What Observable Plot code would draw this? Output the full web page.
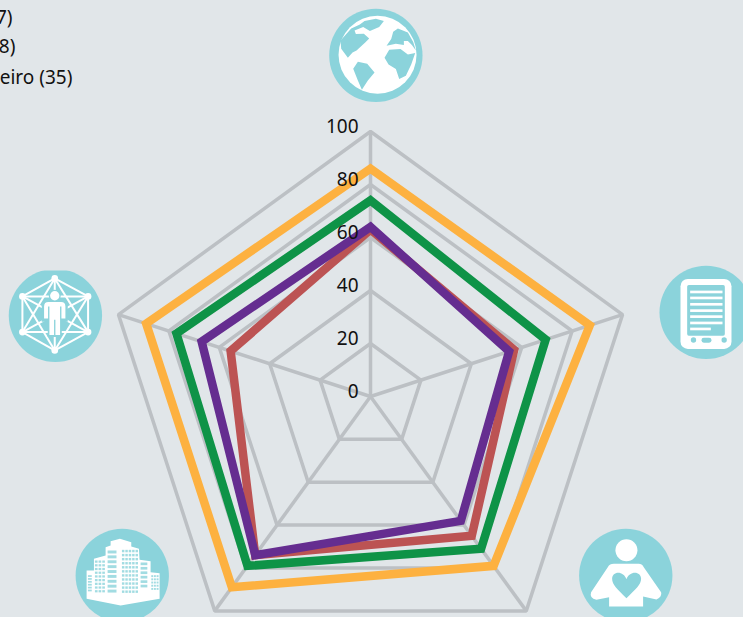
<!DOCTYPE html>
<html>
<head>
<meta charset="utf-8">
<script src="https://cdn.jsdelivr.net/npm/d3@7"></script>
<script src="https://cdn.jsdelivr.net/npm/@observablehq/plot@0.6"></script>
<style>
html,body{margin:0;padding:0;background:#e1e6e9;overflow:hidden}
svg{display:block}
</style>
</head>
<body>
<div id="chart"></div>
<script>
const axesCount = 5;
const levels = [0, 20, 40, 60, 80, 100];
const seriesOrange = [86, 87, 79, 89, 89];
const seriesGreen = [74, 69.5, 71, 79, 77];
const seriesRed = [63, 57, 65, 74, 55.5];
const seriesPurple = [64, 55, 58, 74, 67];
const seriesColors = ["#fdb140", "#0e9347", "#bc5353", "#652d90"];
const legendLabels = ["7)", "8)", "eiro (35)"];
const legendX = [-135.1, -134, -112.5];
const legendY = [142.9, 132, 120.4];

const TEAL = "#8bd3db";
function wrap(w, h, body) {
  const svg = `<svg xmlns="http://www.w3.org/2000/svg" width="${w}" height="${h}" viewBox="0 0 ${w} ${h}">${body}</svg>`;
  return "data:image/svg+xml;charset=utf-8," + encodeURIComponent(svg);
}
function cells(x0, y0, x1, y1, cols, rows) {
  let s = "";
  const cw = (x1 - x0) / cols, ch = (y1 - y0) / rows;
  for (let i = 0; i < cols; i++) for (let j = 0; j < rows; j++)
    s += `<rect x="${x0 + i * cw}" y="${y0 + j * ch}" width="${cw * 0.72}" height="${ch * 0.6}" fill="${TEAL}" opacity=".8"/>`;
  return s;
}
const globeIcon = wrap(330, 330, `
<circle cx="166" cy="165" r="140" fill="${TEAL}"/>
<circle cx="171" cy="163" r="117" fill="#fff"/>
<g fill="${TEAL}">
<path d="M60 120L62 145L82 172L96 156L108 150L134 126L146 114L130 100L106 101L102 90L128 80L148 92L176 80L190 62L166 55L132 62L118 72L92 84Z"/>
<path d="M218 94L232 84L262 96L278 125L286 150L274 134L262 122L250 122L250 134L226 130L198 136L212 116Z"/>
<path d="M192 172L206 148L240 146L262 162L284 158L272 192L256 226L236 236L226 206L204 192Z"/>
<path d="M98 205L112 184L140 190L162 216L142 240L124 268L112 240Z"/>
</g>`);
const netNodes = [[163,24],[263,78],[263,185],[163,240],[66,185],[66,78]];
let netLines = "";
for (let i = 0; i < 6; i++) for (let j = i + 1; j < 6; j++)
  netLines += `<line x1="${netNodes[i][0]}" y1="${netNodes[i][1]}" x2="${netNodes[j][0]}" y2="${netNodes[j][1]}"/>`;
const networkIcon = wrap(330, 300, `
<circle cx="165" cy="135" r="140" fill="${TEAL}"/>
<g stroke="#fff" stroke-width="6">${netLines}</g>
${netNodes.map(n => `<circle cx="${n[0]}" cy="${n[1]}" r="10" fill="#fff"/>`).join("")}
<path d="M124 104Q124 88 140 88L186 88Q202 88 202 104L202 154L184 154L184 200L142 200L142 154L124 154Z" fill="${TEAL}"/>
<circle cx="163" cy="76" r="18" fill="${TEAL}"/>
<circle cx="163" cy="76" r="14" fill="#fff"/>
<path d="M131 108Q131 95 144 95L182 95Q195 95 195 108L195 144L183 144L183 108L179 108L179 194L165 194L165 148L161 148L161 194L147 194L147 108L143 108L143 144L131 144Z" fill="#fff"/>`);
const tabletIcon = wrap(279, 300, `
<circle cx="167" cy="155" r="140" fill="${TEAL}"/>
<rect x="90" y="55" width="153" height="210" rx="22" fill="#fff"/>
<rect x="110" y="73" width="113" height="152" rx="5" fill="${TEAL}"/>
<g fill="#fff">
${[90,108,127,146,164,183].map(y => `<rect x="119" y="${y}" width="97" height="8"/>`).join("")}
<rect x="119" y="201" width="62" height="8"/>
</g>
<g fill="${TEAL}">
<circle cx="129" cy="238" r="8"/><circle cx="221" cy="238" r="8"/>
<rect x="153" y="231" width="30" height="15" rx="7"/>
</g>`);
const buildingIcon = wrap(360, 291, `
<circle cx="185" cy="165" r="140" fill="${TEAL}"/>
<path d="M78 150L100 150L100 115L135 105L135 80L150 75L150 62L178 55L212 65L212 78L235 85L237 118L270 122L270 155L297 158L297 235L180 255L78 235Z" fill="#fff"/>
${cells(82,164,98,216,1,6)}${cells(103,120,136,220,3,9)}${cells(141,90,178,222,1,9)}
${cells(184,88,235,222,5,11)}${cells(240,126,268,206,1,6)}${cells(272,164,296,212,3,5)}`);
const personIcon = wrap(330, 291, `
<circle cx="166" cy="165" r="140" fill="${TEAL}"/>
<circle cx="168" cy="89" r="33" fill="#fff"/>
<path d="M130 130L205 130Q214 130 220 140L272 215Q276 228 258 237L218 228L218 258L116 258L116 230L78 238Q56 232 62 215L112 140Q118 130 130 130Z" fill="#fff"/>
<path d="M168 233C140 206 125 192 125 175C125 150 160 150 168 176C176 150 212 150 212 175C212 192 196 206 168 233Z" fill="${TEAL}"/>`);
const iconSrc = [globeIcon, tabletIcon, personIcon, buildingIcon, networkIcon];
const iconX = [1.9, 123.2, 96.2, -94.3, -118.9];
const iconY = [128.7, 32.4, -65.1, -65.1, 28.7];
const iconW = [110, 93, 110, 120, 110];
const iconH = [110, 100, 97, 97, 100];

const angle = i => i * 2 * Math.PI / axesCount;
const pt = (i, r) => ({x: r * Math.sin(angle(i)), y: r * Math.cos(angle(i))});
const idx = d3.range(axesCount);

const ringData = levels.slice(1).flatMap(l => idx.map(i => ({...pt(i, l), level: l})));
const spokes = idx.map(i => pt(i, 100));
const allSeries = [seriesOrange, seriesGreen, seriesRed, seriesPurple];
const seriesData = allSeries.flatMap((vals, s) => vals.map((v, i) => ({...pt(i, v), s})));
const icons = iconSrc.map((src, i) => ({src, x: iconX[i], y: iconY[i], w: iconW[i], h: iconH[i]}));
const legend = legendLabels.map((t, i) => ({t, x: legendX[i], y: legendY[i]}));
const FONT = "'Noto Sans', sans-serif";

const plot = Plot.plot({
  width: 743,
  height: 617,
  margin: 0,
  style: {background: "#e1e6e9", fontFamily: FONT},
  x: {domain: [-139.62, 140.75], range: [0, 743], axis: null},
  y: {domain: [-83.4, 149.43], range: [617, 0], axis: null},
  marks: [
    Plot.link(spokes, {x1: () => 0, y1: () => 0, x2: "x", y2: "y", stroke: "#bcc0c4", strokeWidth: 3.5}),
    Plot.line(ringData, {x: "x", y: "y", z: "level", curve: "linear-closed", stroke: "#bcc0c4", strokeWidth: 3.5, strokeLinejoin: "miter"}),
    ...allSeries.map((_, s) => Plot.line(seriesData.filter(d => d.s === s), {
      x: "x", y: "y", curve: "linear-closed", stroke: seriesColors[s], strokeWidth: 8.5,
      strokeLinejoin: "miter", strokeMiterlimit: 8
    })),
    Plot.text(levels, {x: () => -4.5, y: d => d, text: d => String(d), textAnchor: "end", dy: -5, fontSize: 19, fill: "#111", fontFamily: FONT}),
    Plot.image(icons.filter(d => d.w === 110 && d.h === 110), {x: "x", y: "y", src: "src", width: 110, height: 110}),
    Plot.image(icons.filter(d => d.w === 93), {x: "x", y: "y", src: "src", width: 93, height: 100}),
    Plot.image(icons.filter(d => d.w === 110 && d.h === 97), {x: "x", y: "y", src: "src", width: 110, height: 97}),
    Plot.image(icons.filter(d => d.w === 120), {x: "x", y: "y", src: "src", width: 120, height: 97}),
    Plot.image(icons.filter(d => d.w === 110 && d.h === 100), {x: "x", y: "y", src: "src", width: 110, height: 100}),
    Plot.text(legend, {x: "x", y: "y", text: "t", textAnchor: "end", fontSize: 19, fill: "#111", fontFamily: FONT})
  ]
});
document.getElementById("chart").appendChild(plot);
</script>
</body>
</html>
